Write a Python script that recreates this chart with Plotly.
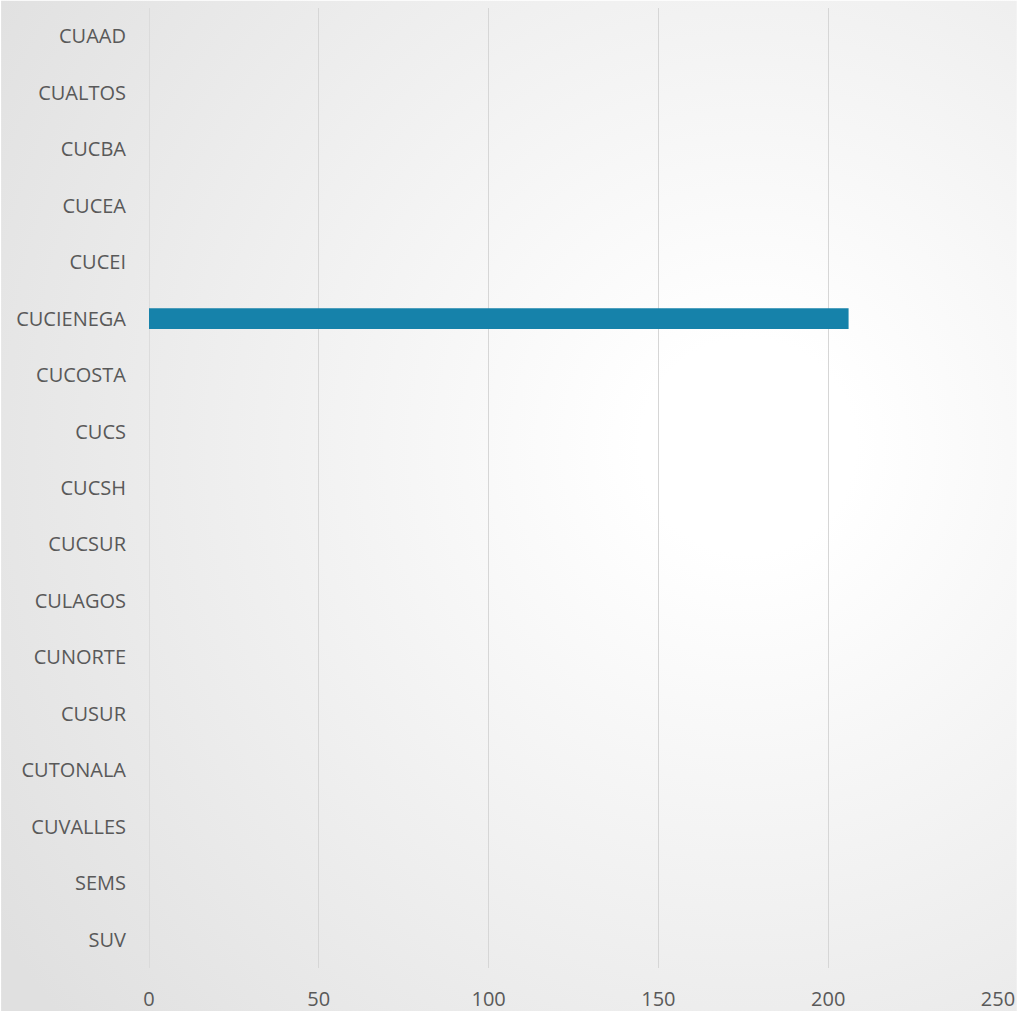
import plotly.graph_objects as go
import urllib.parse

categories = ["CUAAD", "CUALTOS", "CUCBA", "CUCEA", "CUCEI", "CUCIENEGA", "CUCOSTA",
              "CUCS", "CUCSH", "CUCSUR", "CULAGOS", "CUNORTE", "CUSUR", "CUTONALA",
              "CUVALLES", "SEMS", "SUV"]
values = [0, 0, 0, 0, 0, 206, 0, 0, 0, 0, 0, 0, 0, 0, 0, 0, 0]
x_ticks = [0, 50, 100, 150, 200, 250]

W, H = 1023, 1020
svg = (
    f'<svg xmlns="http://www.w3.org/2000/svg" width="{W}" height="{H}" viewBox="0 0 {W} {H}" preserveAspectRatio="none">'
    '<defs><radialGradient id="g" gradientUnits="userSpaceOnUse" cx="752" cy="450" r="900">'
    '<stop offset="0" stop-color="#ffffff"/>'
    '<stop offset="0.12" stop-color="#ffffff"/>'
    '<stop offset="1" stop-color="#e0e0e0"/>'
    '</radialGradient></defs>'
    f'<rect x="0" y="0" width="{W}" height="{H}" fill="url(#g)"/></svg>'
)
bg_src = "data:image/svg+xml;charset=utf-8," + urllib.parse.quote(svg)

fig = go.Figure(go.Bar(
    x=values, y=categories, orientation="h",
    marker=dict(color="#1682AA", line=dict(width=0)),
))

fig.update_layout(
    autosize=True,
    margin=dict(l=149, r=19, t=7.5, b=43.5),
    paper_bgcolor="rgba(0,0,0,0)",
    plot_bgcolor="rgba(0,0,0,0)",
    bargap=0.63,
    showlegend=False,
    font=dict(family="Open Sans", size=20, color="#595959"),
    images=[dict(source=bg_src, xref="paper", yref="paper", x=-149/855, y=1+7.5/969,
                 sizex=W/855, sizey=H/969, xanchor="left", yanchor="top",
                 sizing="stretch", layer="below")],
)
fig.update_xaxes(range=[0, 250], tickvals=x_ticks, showgrid=True, gridcolor="#d6d6d6",
                 gridwidth=1.4, zeroline=False, showline=False, ticks="",
                 ticklabelstandoff=17, tickfont=dict(size=20, color="#595959"))
fig.update_yaxes(categoryorder="array", categoryarray=categories, autorange="reversed",
                 showgrid=False, zeroline=False, showline=False, ticks="",
                 ticklabelstandoff=22, tickfont=dict(size=20, color="#595959"))
fig.add_shape(type="line", xref="x", yref="paper", x0=0, x1=0, y0=0, y1=1,
              line=dict(color="#d6d6d6", width=1.4), layer="below")

post = (
    "var s='margin:0;padding:0;overflow:hidden;';"
    "document.documentElement.style.cssText=s;document.body.style.cssText=s;"
    "window.dispatchEvent(new Event('resize'));"
)
fig.write_html("out.html", config={"displayModeBar": False, "responsive": True},
               default_width="100vw", default_height="100vh", post_script=post)
